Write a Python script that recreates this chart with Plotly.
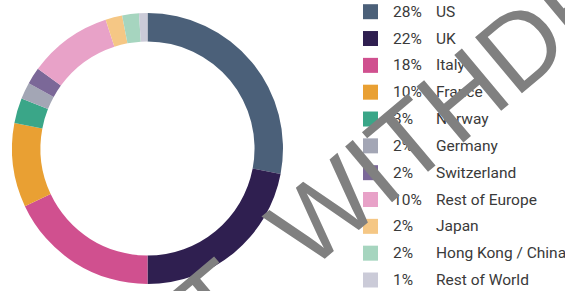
import plotly.graph_objects as go

labels = ["US", "UK", "Italy", "France", "Norway", "Germany", "Switzerland",
          "Rest of Europe", "Japan", "Hong Kong / China", "Rest of World"]
values = [28, 22, 18, 10, 3, 2, 2, 10, 2, 2, 1]
colors = ["#4b6079", "#2f1f50", "#d0508f", "#e9a033", "#3aa688", "#a3a6b5",
          "#7b6898", "#e8a2c8", "#f5c785", "#a6d5bf", "#cbcbd8"]
watermark = "T\u00a0 WITHDRAWN"

W, H = 565, 291


def px(x):
    return x / W


def py(y):
    return (H - y) / H


fig = go.Figure()
fig.add_trace(go.Pie(
    labels=labels, values=values, sort=False, direction="clockwise", rotation=0,
    hole=0.79, textinfo="none", hoverinfo="label+percent",
    marker=dict(colors=colors, line=dict(width=0)),
    domain=dict(x=[px(12), px(283)], y=[py(284), py(13)]),
    showlegend=False,
))

row0 = 11.7
step = 26.83
shapes = []
annotations = []
font = dict(family="Roboto", size=15.5, color="#3a3a3a")
for i, (lab, val, col) in enumerate(zip(labels, values, colors)):
    yc = row0 + i * step
    shapes.append(dict(type="rect", xref="paper", yref="paper",
                       x0=px(363), x1=px(378),
                       y0=py(yc + 7.5), y1=py(yc - 7.5),
                       fillcolor=col, line=dict(width=0), layer="above"))
    annotations.append(dict(xref="paper", yref="paper", x=px(390.5), y=py(yc),
                            text=f"{val}%", showarrow=False, xanchor="left",
                            yanchor="middle", font=font))
    annotations.append(dict(xref="paper", yref="paper", x=px(434), y=py(yc),
                            text=lab, showarrow=False, xanchor="left",
                            yanchor="middle", font=font))

annotations.append(dict(xref="paper", yref="paper", x=px(492), y=py(70),
                        xanchor="center", yanchor="middle",
                        text=watermark, showarrow=False, textangle=-40,
                        font=dict(family="Liberation Sans", size=106, color="#808080")))

fig.update_layout(
    width=W, height=H, margin=dict(l=0, r=0, t=0, b=0),
    paper_bgcolor="white", plot_bgcolor="white",
    shapes=shapes, annotations=annotations,
)

fig.write_html("out.html", config={"displayModeBar": False},
               post_script="document.body.style.margin='0px';")
